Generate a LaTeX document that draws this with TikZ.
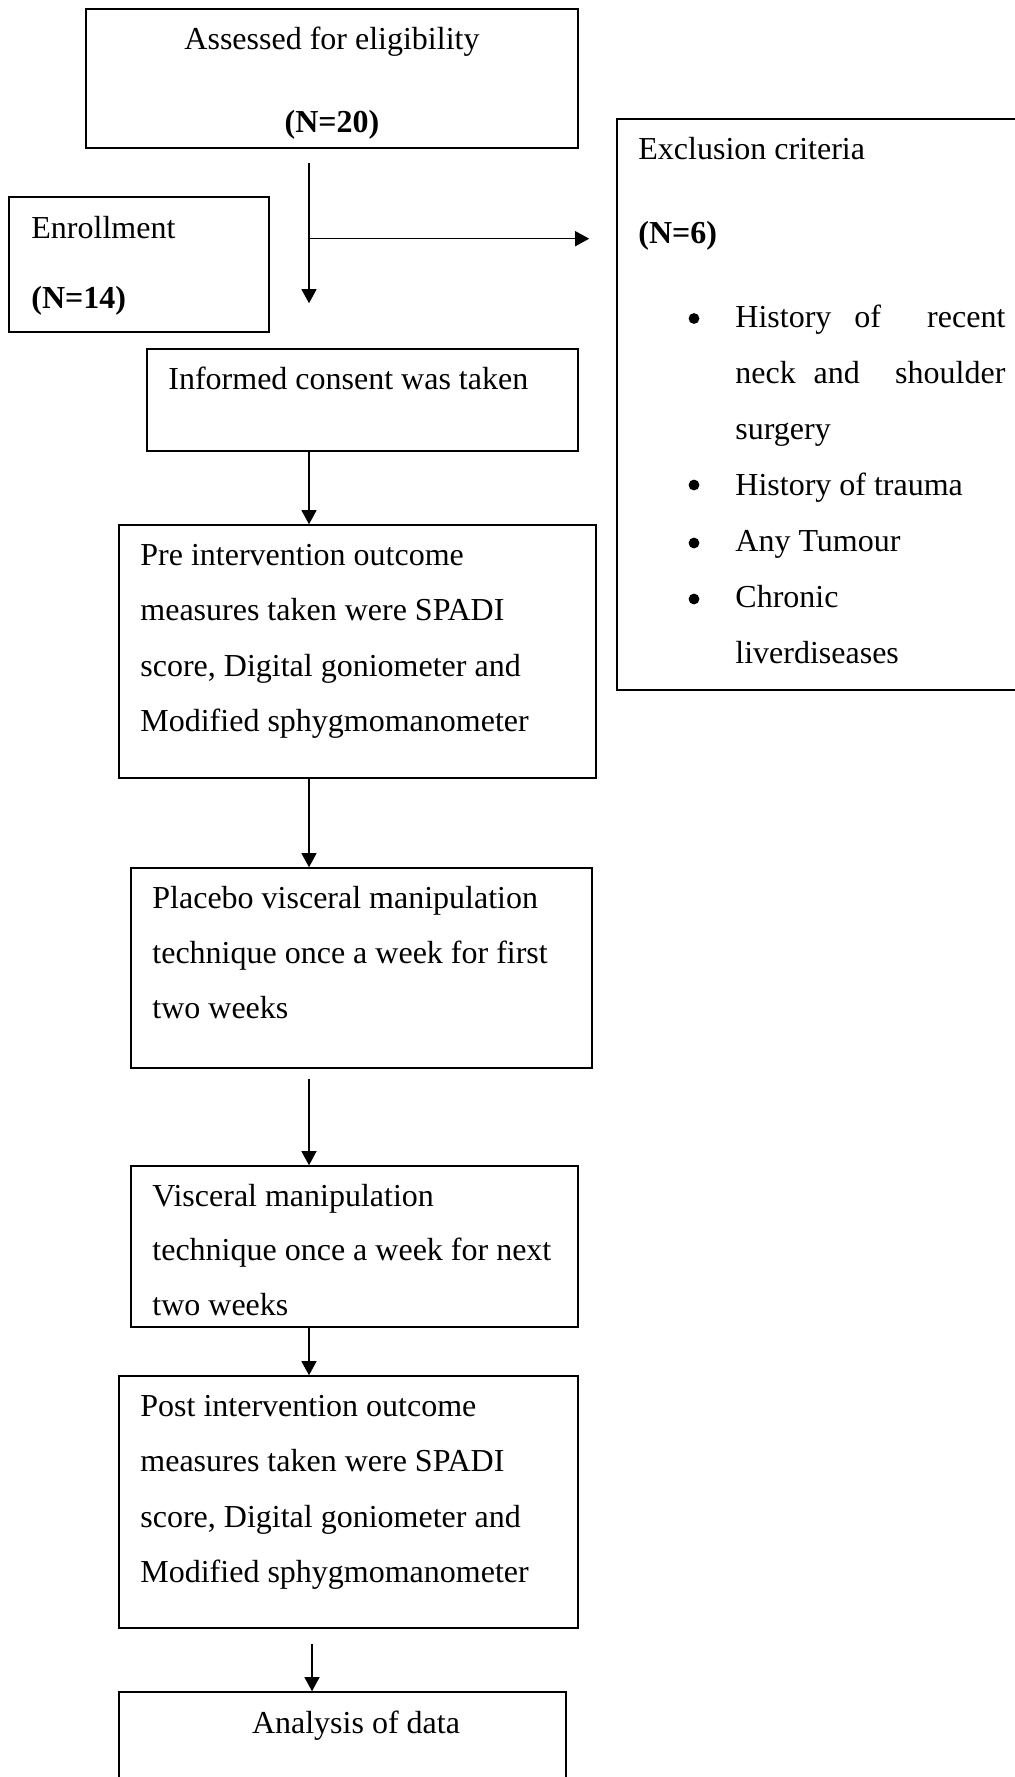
\documentclass[tikz,border=0pt]{standalone}
\usepackage{fontspec}
\setmainfont{Liberation Serif}
\usetikzlibrary{arrows.meta}
\begin{document}
\begin{tikzpicture}[x=0.5pt,y=-0.5pt,
  box/.style={draw, line width=0.8pt, rectangle, inner sep=0pt},
  txt/.style={inner sep=0pt, anchor=base west, font=\fontsize{16pt}{27.75pt}\selectfont},
  ctxt/.style={inner sep=0pt, anchor=base, font=\fontsize{16pt}{27.75pt}\selectfont},
  arr/.style={-{Triangle[length=7pt,width=7.5pt]}, line width=0.6pt},
  dot/.style={fill=black}]
\useasboundingbox (0,0) rectangle (1015,1777);
\clip (0,0) rectangle (1015,1777);
\fill[white] (0,0) rectangle (1015,1777);

% boxes
\node[box, minimum width=246pt, minimum height=69.5pt] (assess) at (332,78.5) {};
\node[box, minimum width=130pt, minimum height=67.5pt] (enroll) at (139,264.5) {};
\node[box, minimum width=206.5pt, minimum height=285.5pt] (excl) at (823.5,404.5) {};
\node[box, minimum width=215.5pt, minimum height=51pt] (consent) at (362.5,400) {};
\node[box, minimum width=238.5pt, minimum height=126.5pt] (pre) at (357.5,651.5) {};
\node[box, minimum width=230.5pt, minimum height=100pt] (placebo) at (361.5,968) {};
\node[box, minimum width=223.5pt, minimum height=80.5pt] (visc) at (354.5,1246.5) {};
\node[box, minimum width=229.5pt, minimum height=126pt] (post) at (348.5,1502) {};
\node[box, minimum width=223.5pt, minimum height=54pt] (anal) at (342.5,1746) {};

% texts
\node[ctxt] (assessT) at (332,50) {Assessed for eligibility};
\node[ctxt] (assessN) at (332,133) {\textbf{(N=20)}};
\node[txt] (enrollT) at (31,238) {Enrollment};
\node[txt] (enrollN) at (31,308) {\textbf{(N=14)}};
\node[txt] (exclT) at (638,159) {Exclusion criteria};
\node[txt] (exclN) at (638,243) {\textbf{(N=6)}};
\node[txt, font=\fontsize{16pt}{28pt}\selectfont] (exclL) at (735,327) {\parbox[t]{140pt}{\raggedright
\leavevmode\hbox to 135pt{History\hskip 0pt plus 1fil of\hskip 0pt plus 2fil recent}\\
\leavevmode\hbox to 135pt{neck\hskip 0pt plus 1fil and\hskip 0pt plus 2fil shoulder}\\
surgery\\
History of trauma\\
Any Tumour\\
Chronic\\
liverdiseases}};
\fill[dot] (694,318.5) circle[radius=2.7pt];
\fill[dot] (694,485) circle[radius=2.7pt];
\fill[dot] (694,543) circle[radius=2.7pt];
\fill[dot] (694,599) circle[radius=2.7pt];
\node[txt] (consentT) at (168,389) {Informed consent was taken};
\node[txt, font=\fontsize{16pt}{27.8pt}\selectfont] (preT) at (140,565) {\parbox[t]{200pt}{\raggedright Pre intervention outcome\\
measures taken were SPADI\\
score, Digital goniometer and\\
Modified sphygmomanometer}};
\node[txt, font=\fontsize{16pt}{27.5pt}\selectfont] (placeboT) at (152,908) {\parbox[t]{205pt}{\raggedright Placebo visceral manipulation\\
technique once a week for first\\
two weeks}};
\node[txt, font=\fontsize{16pt}{27.1pt}\selectfont] (viscT) at (152,1206.7) {\parbox[t]{205pt}{\raggedright Visceral manipulation\\
technique once a week for next\\
two weeks}};
\node[txt, font=\fontsize{16pt}{27.8pt}\selectfont] (postT) at (140,1416) {\parbox[t]{200pt}{\raggedright Post intervention outcome\\
measures taken were SPADI\\
score, Digital goniometer and\\
Modified sphygmomanometer}};
\node[ctxt] (analT) at (356,1733) {Analysis of data};

% connectors
\coordinate (trunk) at (309,0);
\coordinate (trunkB) at (312,0);
\coordinate (branch) at (309,238.7);
\draw[arr, shorten <=7pt, shorten >=22.5pt] (assess.south -| trunk) -- (consent.north -| trunk);
\draw[arr, shorten >=13.5pt] (branch) -- (branch -| excl.west);
\draw[arr] (consent.south -| trunk) -- (pre.north -| trunk);
\draw[arr] (pre.south -| trunk) -- (placebo.north -| trunk);
\draw[arr, shorten <=5pt] (placebo.south -| trunk) -- (visc.north -| trunk);
\draw[arr] (visc.south -| trunk) -- (post.north -| trunk);
\draw[arr, shorten <=7.5pt] (post.south -| trunkB) -- (anal.north -| trunkB);
\end{tikzpicture}
\end{document}
